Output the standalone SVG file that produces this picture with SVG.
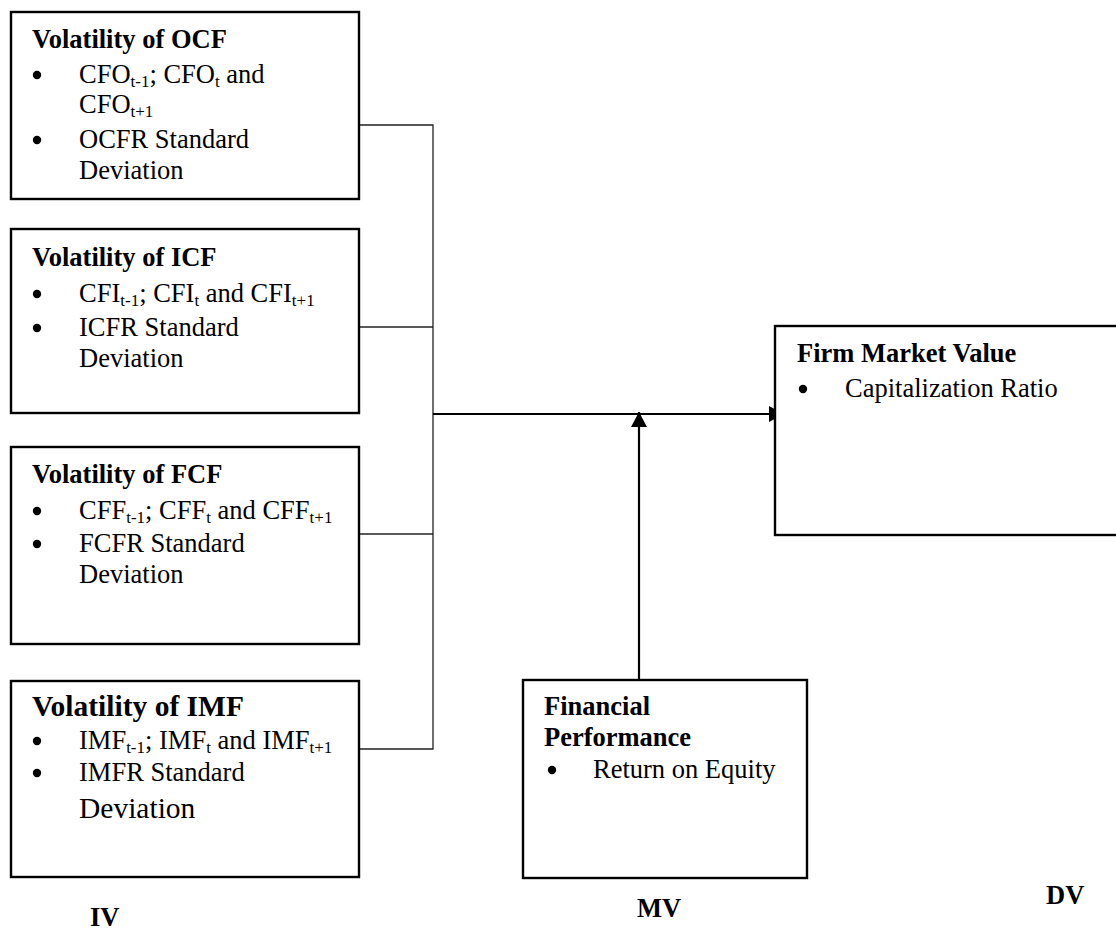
<svg xmlns="http://www.w3.org/2000/svg" width="1116" height="940" viewBox="0 0 1116 940">
<style>
.box{fill:#fff;stroke:#000;stroke-width:2.4}
.conn{fill:none;stroke:#222;stroke-width:1.3}
.arr{fill:none;stroke:#000;stroke-width:2.2}
.dot{fill:#000}
text{font-family:"Liberation Serif","Times New Roman",serif;font-size:26.5px;fill:#000}
.b{font-weight:bold}
.sub{font-size:17px}
.big{font-size:29.5px}
</style>
<defs>
<marker id="ah" viewBox="0 0 15 16" refX="15" refY="8" markerWidth="15" markerHeight="16" markerUnits="userSpaceOnUse" orient="auto">
<path d="M0,0 L15,8 L0,16 z" fill="#000"/>
</marker>
</defs>
<rect width="1116" height="940" fill="#fff"/>

<g id="connectors">
<path class="conn" d="M359,125 H433 V749 H359"/>
<path class="conn" d="M359,327 H433"/>
<path class="conn" d="M359,534 H433"/>
<line class="arr" x1="433" y1="414" x2="784" y2="414" marker-end="url(#ah)"/>
<line class="arr" x1="639" y1="680" x2="639" y2="412" marker-end="url(#ah)"/>
</g>

<g id="ocf">
<rect class="box" x="11" y="12" width="348" height="187"/>
<text class="b" x="32" y="48">Volatility of OCF</text>
<circle class="dot" cx="37" cy="75" r="4.2"/>
<text x="79" y="83">CFO<tspan class="sub" dy="4">t-1</tspan><tspan dy="-4">; CFO</tspan><tspan class="sub" dy="4">t</tspan><tspan dy="-4"> and</tspan></text>
<text x="79" y="113">CFO<tspan class="sub" dy="4">t+1</tspan></text>
<circle class="dot" cx="37" cy="140" r="4.2"/>
<text x="79" y="148">OCFR Standard</text>
<text x="79" y="179">Deviation</text>
</g>

<g id="icf">
<rect class="box" x="11" y="229" width="348" height="184"/>
<text class="b" x="32" y="266">Volatility of ICF</text>
<circle class="dot" cx="37" cy="294" r="4.2"/>
<text x="79" y="302">CFI<tspan class="sub" dy="4">t-1</tspan><tspan dy="-4">; CFI</tspan><tspan class="sub" dy="4">t</tspan><tspan dy="-4"> and CFI</tspan><tspan class="sub" dy="4">t+1</tspan></text>
<circle class="dot" cx="37" cy="328" r="4.2"/>
<text x="79" y="336">ICFR Standard</text>
<text x="79" y="367">Deviation</text>
</g>

<g id="fcf">
<rect class="box" x="11" y="447" width="348" height="197"/>
<text class="b" x="32" y="483">Volatility of FCF</text>
<circle class="dot" cx="37" cy="511" r="4.2"/>
<text x="79" y="519">CFF<tspan class="sub" dy="4">t-1</tspan><tspan dy="-4">; CFF</tspan><tspan class="sub" dy="4">t</tspan><tspan dy="-4"> and CFF</tspan><tspan class="sub" dy="4">t+1</tspan></text>
<circle class="dot" cx="37" cy="544" r="4.2"/>
<text x="79" y="552">FCFR Standard</text>
<text x="79" y="583">Deviation</text>
</g>

<g id="imf">
<rect class="box" x="11" y="681" width="348" height="196"/>
<text class="b big" x="32" y="716">Volatility of IMF</text>
<circle class="dot" cx="37" cy="741" r="4.2"/>
<text x="79" y="749">IMF<tspan class="sub" dy="4">t-1</tspan><tspan dy="-4">; IMF</tspan><tspan class="sub" dy="4">t</tspan><tspan dy="-4"> and IMF</tspan><tspan class="sub" dy="4">t+1</tspan></text>
<circle class="dot" cx="37" cy="773" r="4.2"/>
<text x="79" y="781">IMFR Standard</text>
<text class="big" x="79" y="818">Deviation</text>
</g>

<g id="fmv">
<rect class="box" x="775" y="326" width="345" height="209"/>
<text class="b" x="797" y="362">Firm Market Value</text>
<circle class="dot" cx="803" cy="389" r="4.2"/>
<text x="845" y="397">Capitalization Ratio</text>
</g>

<g id="fp">
<rect class="box" x="523" y="680" width="284" height="198"/>
<text class="b" x="544" y="715">Financial</text>
<text class="b" x="544" y="746">Performance</text>
<circle class="dot" cx="552" cy="770" r="4.2"/>
<text x="593" y="778">Return on Equity</text>
</g>

<g id="labels">
<text class="b" x="90" y="926">IV</text>
<text class="b" x="637" y="917">MV</text>
<text class="b" x="1046" y="904">DV</text>
</g>
</svg>
